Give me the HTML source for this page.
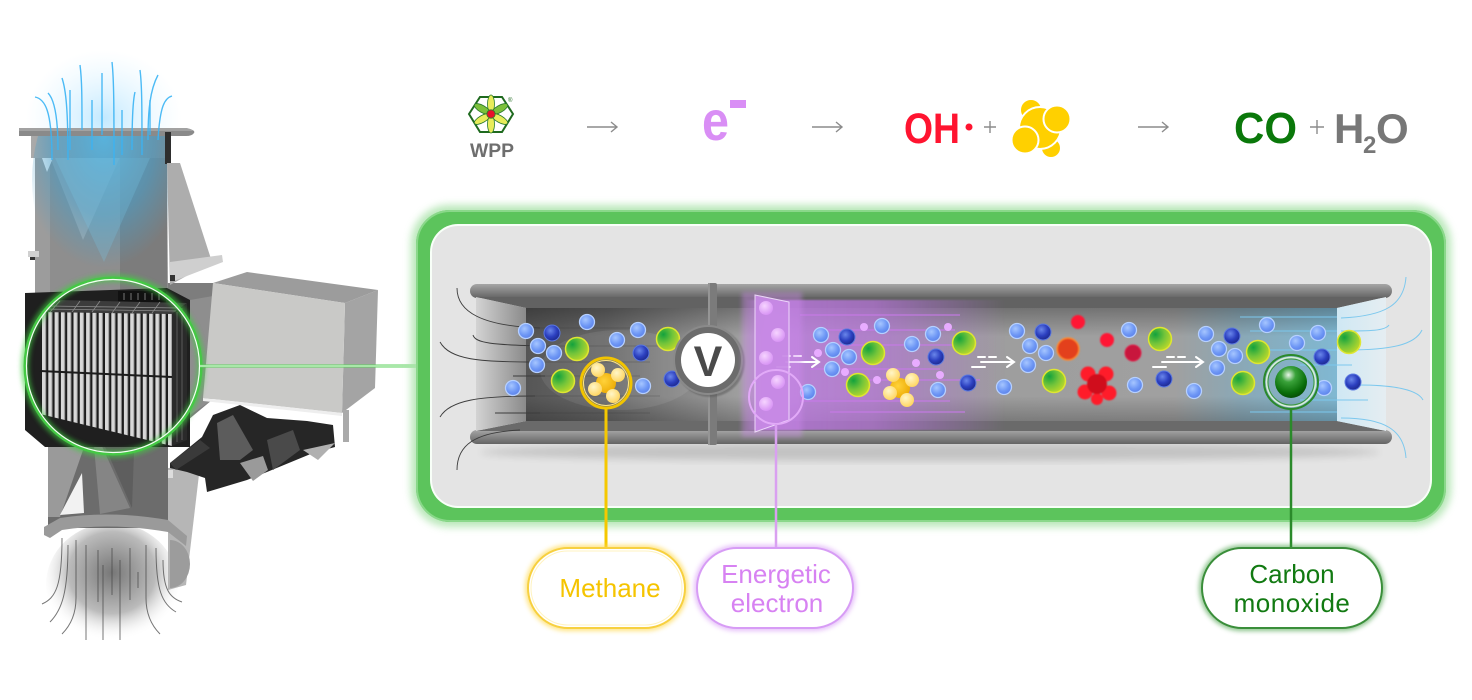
<!DOCTYPE html>
<html><head><meta charset="utf-8"><style>
html,body{margin:0;padding:0;background:#fff;width:1472px;height:700px;overflow:hidden}
svg{display:block}
text{font-family:"Liberation Sans",Arial,sans-serif}
</style></head><body>
<svg width="1472" height="700" viewBox="0 0 1472 700" xmlns="http://www.w3.org/2000/svg">
<defs>
<filter id="b1" x="-30%" y="-30%" width="160%" height="160%"><feGaussianBlur stdDeviation="0.8"/></filter>
<filter id="b2" x="-50%" y="-50%" width="200%" height="200%"><feGaussianBlur stdDeviation="2.5"/></filter>
<filter id="b4" x="-20%" y="-20%" width="140%" height="140%"><feGaussianBlur stdDeviation="4"/></filter>
<filter id="b8" x="-50%" y="-50%" width="200%" height="200%"><feGaussianBlur stdDeviation="8"/></filter>
<radialGradient id="glb" cx="0.4" cy="0.35" r="0.7"><stop offset="0" stop-color="#a6c6ff"/><stop offset="0.6" stop-color="#6e97f5"/><stop offset="1" stop-color="#5a80e8"/></radialGradient>
<radialGradient id="gdb" cx="0.4" cy="0.35" r="0.7"><stop offset="0" stop-color="#6a86ea"/><stop offset="0.55" stop-color="#2c40c0"/><stop offset="1" stop-color="#1b2688"/></radialGradient>
<radialGradient id="ggy" cx="0.3" cy="0.3" r="0.8"><stop offset="0" stop-color="#13a23c"/><stop offset="0.5" stop-color="#72c43a"/><stop offset="1" stop-color="#c2da28"/></radialGradient>
<radialGradient id="gsat" cx="0.4" cy="0.35" r="0.7"><stop offset="0" stop-color="#fff6c8"/><stop offset="1" stop-color="#ffd45a"/></radialGradient>
<radialGradient id="gmc" cx="0.4" cy="0.4" r="0.7"><stop offset="0" stop-color="#ffd23a"/><stop offset="1" stop-color="#eba800"/></radialGradient>
<radialGradient id="gpk" cx="0.4" cy="0.35" r="0.7"><stop offset="0" stop-color="#f6d4ff"/><stop offset="1" stop-color="#d690f4"/></radialGradient>
<radialGradient id="gco" cx="0.42" cy="0.28" r="0.75"><stop offset="0" stop-color="#eaf6ea"/><stop offset="0.3" stop-color="#3aa23a"/><stop offset="0.75" stop-color="#0a6e0a"/><stop offset="1" stop-color="#064a06"/></radialGradient>
<linearGradient id="gint" gradientUnits="userSpaceOnUse" x1="526" y1="0" x2="1337" y2="0">
<stop offset="0" stop-color="#565656"/><stop offset="0.1" stop-color="#686868"/><stop offset="0.2" stop-color="#8a8a8a"/><stop offset="0.28" stop-color="#a4a4a4"/><stop offset="0.45" stop-color="#9c9c9c"/><stop offset="0.62" stop-color="#9e9e9e"/><stop offset="0.8" stop-color="#a0a0a0"/><stop offset="0.88" stop-color="#8aa8b6"/><stop offset="1" stop-color="#80b8d2"/></linearGradient>
<linearGradient id="gv" x1="0" y1="0" x2="0" y2="1"><stop offset="0" stop-color="#000" stop-opacity="0.28"/><stop offset="0.25" stop-color="#000" stop-opacity="0"/><stop offset="0.78" stop-color="#000" stop-opacity="0"/><stop offset="1" stop-color="#000" stop-opacity="0.22"/></linearGradient>
<linearGradient id="gpur" gradientUnits="userSpaceOnUse" x1="745" y1="0" x2="1005" y2="0">
<stop offset="0" stop-color="#b870e0" stop-opacity="0"/><stop offset="0.08" stop-color="#c07ae6" stop-opacity="0.8"/><stop offset="0.5" stop-color="#b874dc" stop-opacity="0.7"/><stop offset="0.8" stop-color="#b070d8" stop-opacity="0.3"/><stop offset="1" stop-color="#b070d8" stop-opacity="0"/></linearGradient>
<linearGradient id="gfl" x1="0" y1="0" x2="0" y2="1"><stop offset="0" stop-color="#a6a6a6"/><stop offset="0.45" stop-color="#888"/><stop offset="1" stop-color="#646464"/></linearGradient>
<linearGradient id="gls" gradientUnits="userSpaceOnUse" x1="470" y1="0" x2="526" y2="0"><stop offset="0" stop-color="#dcdcdc"/><stop offset="1" stop-color="#8a8a8a"/></linearGradient>
<linearGradient id="grs" gradientUnits="userSpaceOnUse" x1="1337" y1="0" x2="1392" y2="0"><stop offset="0" stop-color="#cfe8f4"/><stop offset="1" stop-color="#e8eef1"/></linearGradient>
<radialGradient id="gBlueTop" cx="0.5" cy="0.5" r="0.5"><stop offset="0" stop-color="#bfe8ff" stop-opacity="0.95"/><stop offset="1" stop-color="#dff4ff" stop-opacity="0"/></radialGradient>
<radialGradient id="gCone" cx="0.5" cy="0.3" r="0.6"><stop offset="0" stop-color="#55b4e0" stop-opacity="0.95"/><stop offset="0.6" stop-color="#4a9ec8" stop-opacity="0.6"/><stop offset="1" stop-color="#4a9ec8" stop-opacity="0"/></radialGradient>
<radialGradient id="gBot" cx="0.5" cy="0.4" r="0.55"><stop offset="0" stop-color="#777"/><stop offset="0.6" stop-color="#bbb"/><stop offset="1" stop-color="#fff" stop-opacity="0"/></radialGradient>
<linearGradient id="gCol" x1="0" y1="0" x2="1" y2="0"><stop offset="0" stop-color="#aaa"/><stop offset="1" stop-color="#858585"/></linearGradient>
<pattern id="fins" x="42" y="0" width="6.3" height="10" patternUnits="userSpaceOnUse"><rect width="6.3" height="10" fill="#1c1c1c"/><rect width="4" height="10" fill="#d8d8d8"/><rect x="3.2" width="0.9" height="10" fill="#9a9a9a"/></pattern>
<clipPath id="colclip"><rect x="31" y="136" width="137" height="160"/></clipPath>
<circle id="LB" r="7.5" fill="url(#glb)" stroke="#b6d0ff" stroke-width="1.3"/>
<circle id="DB" r="8" fill="url(#gdb)" stroke="#5a78e0" stroke-width="1"/>
<circle id="GY" r="11.5" fill="url(#ggy)" stroke="#dfe632" stroke-width="1.5"/>
<circle id="PK" r="4" fill="#e8acff"/>
</defs>

<!-- ================= MACHINE ================= -->
<ellipse cx="104" cy="118" rx="78" ry="68" fill="url(#gBlueTop)"/>
<ellipse cx="112" cy="585" rx="66" ry="62" fill="url(#gBot)"/>
<g stroke="#4a4a4a" stroke-width="1" fill="none" opacity="0.75">
<path d="M62,538 C62,585 56,598 42,604"/>
<path d="M68,545 C68,592 62,610 50,622"/>
<path d="M76,540 L76,598 C76,615 70,626 62,634"/>
<path d="M86,545 L86,640"/>
<path d="M98,550 L98,602"/>
<path d="M103,565 L103,640"/>
<path d="M112,548 L112,595"/>
<path d="M120,560 L120,640"/>
<path d="M130,548 L130,600"/>
<path d="M138,572 L138,588"/>
<path d="M146,545 L146,598 C146,615 152,626 160,634"/>
<path d="M156,548 C156,590 162,604 176,612"/>
<path d="M163,560 C163,590 170,598 182,602"/>
</g>
<path d="M168,468 L200,466 L186,585 L168,590 Z" fill="#b6b6b6"/>
<path d="M170,540 A20 24 0 0 1 170,588 Z" fill="#9c9c9c"/>
<path d="M48,418 L168,418 L168,528 L48,528 Z" fill="#6c6c6c"/>
<path d="M48,420 L92,424 L60,517 L48,517 Z" fill="#9a9a9a"/>
<path d="M92,424 L130,508 L100,514 Z" fill="#858585"/>
<path d="M95,424 L135,424 L132,508 Z" fill="#5e5e5e"/>
<path d="M60,515 L82,473 L84,513 Z" fill="#f2f2f2"/>
<path d="M44,527 L60,518 Q110,510 168,520 L187,536 L186,546 L168,532 Q110,522 62,530 L50,538 L44,535 Z" fill="#9a9a9a"/>
<path d="M170,463 L202,437 L213,415 L240,405 L267,418 L307,421 L333,425 L335,447 L313,453 L267,472 L247,480 L207,492 L205,478 L187,472 L170,468 Z" fill="#262626"/>
<path d="M217,423 L233,415 L253,450 L240,460 L220,460 Z" fill="#5c5c5c"/>
<path d="M267,440 L293,430 L300,450 L273,470 Z" fill="#4a4a4a"/>
<path d="M240,463 L263,456 L268,470 L253,481 Z" fill="#9a9a9a"/>
<path d="M303,450 L335,443 L318,460 Z" fill="#b0b0b0"/>
<path d="M170,463 L200,440 L210,448 L176,470 Z" fill="#3a3a3a"/>
<rect x="168" y="470" width="5" height="8" fill="#ddd"/>
<path d="M167,283 L214,283 L212,400 L188,420 L167,420 Z" fill="#7d7d7d"/>
<path d="M190,300 L213,296 L212,400 L190,415 Z" fill="#8e8e8e"/>
<path d="M345,303 L378,290 L375,388 L342,413 Z" fill="#a4a4a4"/>
<path d="M213,283 L247,272 L378,290 L345,303 Z" fill="#9c9c9c"/>
<path d="M213,283 L345,303 L342,413 L203,398 Z" fill="#c9c9c7"/>
<path d="M203,398 L342,413 L342,416 L203,401 Z" fill="#eee"/>
<rect x="343" y="410" width="6" height="32" fill="#aaa"/>
<path d="M35,157 L167,157 L168,300 L35,300 Z" fill="#8e8e8e"/>
<path d="M35,157 L50,157 L50,300 L35,300 Z" fill="#9c9c9c"/>
<path d="M50,157 L120,157 L83,240 Z" fill="#a8a8a8"/>
<path d="M120,157 L167,157 L167,292 L120,292 Z" fill="#7c7c7c"/>
<rect x="31" y="136" width="137" height="22" fill="url(#gCol)"/>
<path d="M19,128 L186,128 Q196,130 194,133 Q192,136 186,136 L19,136 Z" fill="#8a8a8a"/>
<path d="M19,128 L186,128 Q192,129 193,131 L19,131 Z" fill="#a2a2a2"/>
<path d="M42,158 L53,158 L47,172 Z" fill="#fff"/>
<g clip-path="url(#colclip)"><ellipse cx="104" cy="180" rx="72" ry="110" fill="url(#gCone)"/>
<path d="M55,158 L150,158 L104,262 Z" fill="#7cc6e8" opacity="0.25"/></g>
<rect x="165" y="132" width="6" height="32" fill="#2e2e2e"/>
<path d="M167,163 L180,163 L212,262 L170,285 Z" fill="#adadad"/>
<path d="M170,262 L222,255 L223,262 L174,281 L170,278 Z" fill="#cfcfcf"/>
<rect x="170" y="275" width="5" height="6" fill="#333"/>
<rect x="28" y="251" width="11" height="6" fill="#d0d0d0"/><rect x="30" y="257" width="5" height="3" fill="#333"/>
<g stroke="#3ab4f5" stroke-width="1.4" fill="none" opacity="0.9">
<path d="M35,97 C45,99 52,110 52,160"/>
<path d="M48,93 C55,100 58,120 58,150"/>
<path d="M62,78 C66,90 68,110 68,160"/>
<path d="M70,90 L70,150"/>
<path d="M80,65 C82,80 82,100 82,130"/>
<path d="M92,100 L92,150"/>
<path d="M102,73 L102,135"/>
<path d="M112,62 C114,80 114,110 114,165"/>
<path d="M122,110 L122,155"/>
<path d="M135,92 C133,100 132,120 132,150"/>
<path d="M140,70 C142,85 142,110 142,155"/>
<path d="M150,100 L150,135"/>
<path d="M158,75 C150,90 148,110 148,140"/>
<path d="M172,96 C165,98 160,105 158,140"/>
</g>
<path d="M25,293 L167,288 L190,300 L190,447 L45,447 L25,430 Z" fill="#1f1f1f"/>
<rect x="118" y="291" width="48" height="12" fill="#111"/>
<g stroke="#777" stroke-width="1"><path d="M124,293 V300 M131,293 V300 M138,293 V300 M145,293 V300 M152,293 V300 M159,293 V300"/></g>
<path d="M40,312 L58,300 L187,303 L172,314 Z" fill="#3c3c3c"/>
<g stroke="#8a8a8a" stroke-width="0.8"><path d="M48,306 L180,308 M44,309 L176,311 M60,301 L50,312 M80,301 L72,312 M100,301 L92,312 M120,302 L112,313 M140,302 L132,313 M160,302 L152,313"/></g>
<path d="M40,312 L172,314 L172,446 L40,414 Z" fill="url(#fins)"/>
<path d="M40,371 L172,377" stroke="#1c1c1c" stroke-width="2"/>
<path d="M172,314 L187,303 L187,440 L172,446 Z" fill="#2a2a2a"/>
<path d="M177,312 V442 M182,308 V440" stroke="#5a5a5a" stroke-width="1"/>
<circle cx="113" cy="366" r="88" fill="none" stroke="#3fd03f" stroke-width="8" opacity="0.6" filter="url(#b2)"/>
<circle cx="113" cy="366" r="88" fill="none" stroke="#45c845" stroke-width="3"/>
<circle cx="113" cy="366" r="86.5" fill="none" stroke="#f4fff4" stroke-width="1.2"/>
<line x1="200" y1="366" x2="434" y2="366" stroke="#55d455" stroke-width="7" opacity="0.7" filter="url(#b2)"/>
<line x1="200" y1="366" x2="434" y2="366" stroke="#5fd05f" stroke-width="3"/>
<line x1="200" y1="366" x2="434" y2="366" stroke="#f0fff0" stroke-width="1"/>

<!-- ================= PANEL ================= -->
<rect x="411" y="205" width="1040" height="322" rx="38" fill="#a8e2a8" opacity="0.8" filter="url(#b4)"/>
<rect x="416" y="210" width="1030" height="312" rx="34" fill="#5cc45c"/>
<rect x="417" y="211" width="1028" height="310" rx="33" fill="none" stroke="#8ad88a" stroke-width="2"/>
<rect x="430" y="224" width="1002" height="284" rx="28" fill="#f8fff8"/>
<rect x="432" y="226" width="998" height="280" rx="26" fill="#e4e4e4"/>
<ellipse cx="930" cy="452" rx="450" ry="9" fill="#000" opacity="0.14" filter="url(#b4)"/>
<rect x="470" y="284" width="922" height="14" rx="7" fill="url(#gfl)"/>
<rect x="470" y="430" width="922" height="14" rx="7" fill="url(#gfl)"/>
<path d="M476,297 L1386,297 L1337,308 L526,308 Z" fill="#626262"/>
<path d="M526,421 L1337,421 L1386,431 L476,431 Z" fill="#6a6a6a"/>
<path d="M476,297 L526,308 L526,421 L476,431 Z" fill="url(#gls)"/>
<path d="M1337,308 L1386,297 L1386,431 L1337,421 Z" fill="url(#grs)"/>
<rect x="526" y="308" width="811" height="113" fill="url(#gint)"/>
<rect x="526" y="308" width="811" height="113" fill="url(#gv)"/>
<ellipse cx="620" cy="370" rx="80" ry="40" fill="#fff" opacity="0.08"/>
<rect x="745" y="300" width="260" height="130" fill="url(#gpur)" filter="url(#b1)"/>
<g stroke="#c77ae8" stroke-width="1.5" opacity="0.75">
<path d="M800,315 H960 M820,330 H955 M840,345 H975 M810,369 H940 M860,380 H980 M800,401 H950 M830,412 H965"/>
</g>
<g stroke="#3c3c3c" stroke-width="0.9" fill="none">
<path d="M457,288 C457,312 482,326 540,328"/>
<path d="M473,335 C475,343 492,345 545,346"/>
<path d="M440,342 C450,360 480,362 535,362"/>
<path d="M513,376 L545,376"/>
<path d="M440,417 C450,400 480,396 535,396"/>
<path d="M495,413 L540,413"/>
<path d="M457,470 C457,445 475,432 520,430"/>
</g>
<g stroke="#333" stroke-width="0.8" opacity="0.35"><path d="M540,328 H640 M545,346 H660 M535,362 H650 M545,376 H640 M535,396 H660 M540,413 H650"/></g>
<g stroke="#7cc8ee" stroke-width="1" fill="none">
<path d="M1406,277 C1404,305 1385,316 1341,318"/>
<path d="M1389,325 C1385,331 1370,331 1341,331"/>
<path d="M1422,330 C1415,345 1390,350 1348,350"/>
<path d="M1300,365 H1352"/>
<path d="M1358,385 C1395,385 1418,390 1423,400"/>
<path d="M1300,400 H1368"/>
<path d="M1341,418 C1385,418 1404,430 1406,458"/>
<path d="M1240,317 H1337 M1250,331 H1337 M1260,350 H1337 M1250,412 H1337"/>
</g>
<g stroke="#fff" stroke-width="2" fill="none" stroke-linecap="round">
<path d="M783,356 H790 M794,356 H801 M786,362 H818 M777,367 H790 M812,357 L819,362 L812,367"/>
<path d="M978,357 H985 M989,357 H996 M981,362 H1014 M972,367 H985 M1007,357 L1014,362 L1007,367"/>
<path d="M1167,357 H1174 M1178,357 H1185 M1162,362 H1203 M1153,367 H1166 M1196,357 L1203,362 L1196,367"/>
</g>
<g>
<use href="#LB" x="526" y="331"/><use href="#LB" x="538" y="346"/><use href="#LB" x="554" y="353"/><use href="#LB" x="537" y="365"/><use href="#LB" x="587" y="322"/><use href="#LB" x="617" y="340"/><use href="#LB" x="638" y="330"/><use href="#LB" x="643" y="386"/><use href="#LB" x="513" y="388"/><use href="#LB" x="808" y="392"/><use href="#LB" x="821" y="335"/><use href="#LB" x="833" y="350"/><use href="#LB" x="849" y="357"/><use href="#LB" x="832" y="369"/><use href="#LB" x="882" y="326"/><use href="#LB" x="912" y="344"/><use href="#LB" x="933" y="334"/><use href="#LB" x="938" y="390"/><use href="#LB" x="1004" y="387"/><use href="#LB" x="1017" y="331"/><use href="#LB" x="1030" y="346"/><use href="#LB" x="1046" y="353"/><use href="#LB" x="1028" y="365"/><use href="#LB" x="1129" y="330"/><use href="#LB" x="1135" y="385"/><use href="#LB" x="1194" y="391"/><use href="#LB" x="1206" y="334"/><use href="#LB" x="1219" y="349"/><use href="#LB" x="1235" y="356"/><use href="#LB" x="1217" y="368"/><use href="#LB" x="1267" y="325"/><use href="#LB" x="1297" y="343"/><use href="#LB" x="1318" y="333"/><use href="#LB" x="1324" y="388"/>
<use href="#DB" x="552" y="333"/><use href="#DB" x="641" y="353"/><use href="#DB" x="672" y="379"/><use href="#DB" x="847" y="337"/><use href="#DB" x="936" y="357"/><use href="#DB" x="968" y="383"/><use href="#DB" x="1043" y="332"/><use href="#DB" x="1164" y="379"/><use href="#DB" x="1232" y="336"/><use href="#DB" x="1322" y="357"/><use href="#DB" x="1353" y="382"/>
<use href="#GY" x="577" y="349"/><use href="#GY" x="563" y="381"/><use href="#GY" x="668" y="339"/><use href="#GY" x="873" y="353"/><use href="#GY" x="858" y="385"/><use href="#GY" x="964" y="343"/><use href="#GY" x="1054" y="381"/><use href="#GY" x="1160" y="339"/><use href="#GY" x="1258" y="352"/><use href="#GY" x="1243" y="383"/><use href="#GY" x="1349" y="342"/>
<use href="#PK" x="864" y="327"/><use href="#PK" x="818" y="353"/><use href="#PK" x="845" y="372"/><use href="#PK" x="877" y="380"/><use href="#PK" x="916" y="363"/><use href="#PK" x="948" y="327"/><use href="#PK" x="940" y="375"/>
</g>
<g filter="url(#b1)">
<circle cx="1078" cy="322" r="7" fill="#ff1535"/>
<circle cx="1107" cy="340" r="7" fill="#ff1535"/>
<circle cx="1133" cy="353" r="8" fill="#c8143e" stroke="#e0204a" stroke-width="1"/>
<circle cx="1068" cy="349" r="11" fill="#e3401f" stroke="#ff8a30" stroke-width="1.5"/>
<circle cx="1088" cy="374" r="7.5" fill="#ff1a2a"/><circle cx="1106" cy="374" r="7.5" fill="#ff1a2a"/>
<circle cx="1085" cy="392" r="7.5" fill="#ff1a2a"/><circle cx="1109" cy="393" r="7.5" fill="#ff1a2a"/>
<circle cx="1097" cy="399" r="6" fill="#ff1a2a"/><circle cx="1097" cy="384" r="10" fill="#d0101e"/>
</g>
<g>
<circle cx="606" cy="383" r="10" fill="url(#gmc)"/>
<circle cx="598" cy="370" r="7" fill="url(#gsat)"/><circle cx="618" cy="375" r="7" fill="url(#gsat)"/>
<circle cx="595" cy="389" r="7" fill="url(#gsat)"/><circle cx="613" cy="396" r="7" fill="url(#gsat)"/>
<circle cx="900" cy="388" r="10" fill="url(#gmc)"/>
<circle cx="893" cy="375" r="7" fill="url(#gsat)"/><circle cx="912" cy="380" r="7" fill="url(#gsat)"/>
<circle cx="890" cy="393" r="7" fill="url(#gsat)"/><circle cx="907" cy="400" r="7" fill="url(#gsat)"/>
</g>
<rect x="708" y="283" width="9" height="162" rx="2" fill="#7b7b7b"/>
<rect x="708" y="283" width="2" height="162" fill="#959595"/>
<circle cx="710" cy="362" r="35" fill="#555" opacity="0.5" filter="url(#b1)"/>
<circle cx="708" cy="360" r="35" fill="#8a8a8a"/>
<circle cx="708" cy="360" r="33" fill="#6c6c6c"/>
<circle cx="708" cy="360" r="27" fill="#fff"/>
<text x="708" y="376" font-size="43" font-weight="bold" fill="#4a4a4a" text-anchor="middle">V</text>
<rect x="742" y="292" width="60" height="145" fill="#d08af0" opacity="0.4" filter="url(#b2)"/>
<path d="M755,295 L789,302 L789,420 L755,432 Z" fill="#c88ae6" opacity="0.9" stroke="#f4e2ff" stroke-width="1"/>
<circle cx="766" cy="308" r="7" fill="url(#gpk)"/><circle cx="778" cy="335" r="7" fill="url(#gpk)"/><circle cx="766" cy="358" r="7" fill="url(#gpk)"/><circle cx="778" cy="382" r="7" fill="url(#gpk)"/><circle cx="766" cy="404" r="7" fill="url(#gpk)"/>
<circle cx="776" cy="397" r="27" fill="none" stroke="#e2aaf8" stroke-width="2"/>
<circle cx="606" cy="383" r="25" fill="none" stroke="#f2c400" stroke-width="3"/>
<circle cx="606" cy="383" r="22.5" fill="none" stroke="#ffe680" stroke-width="1"/>
<circle cx="1291" cy="382" r="27" fill="none" stroke="#2a8a2a" stroke-width="2"/>
<circle cx="1291" cy="382" r="24.5" fill="none" stroke="#d8f0d8" stroke-width="1.5"/>
<circle cx="1291" cy="382" r="23" fill="none" stroke="#3c9a3c" stroke-width="1"/>
<circle cx="1291" cy="382" r="16" fill="url(#gco)"/>

<line x1="606" y1="408" x2="606" y2="550" stroke="#f5c800" stroke-width="3"/>
<line x1="776" y1="424" x2="776" y2="550" stroke="#d9a0f0" stroke-width="2.5"/>
<line x1="1291" y1="409" x2="1291" y2="550" stroke="#2a8a2a" stroke-width="2.5"/>

<rect x="528" y="548" width="157" height="80" rx="40" fill="none" stroke="#ffd84a" stroke-width="6" opacity="0.7" filter="url(#b2)"/>
<rect x="528" y="548" width="157" height="80" rx="40" fill="#fff" stroke="#f7d040" stroke-width="2"/>
<rect x="531" y="551" width="151" height="74" rx="37" fill="none" stroke="#fff3c0" stroke-width="1"/>
<text x="610" y="597" font-size="26" fill="#f5c400" text-anchor="middle">Methane</text>

<rect x="697" y="548" width="156" height="80" rx="40" fill="none" stroke="#dba4f7" stroke-width="6" opacity="0.7" filter="url(#b2)"/>
<rect x="697" y="548" width="156" height="80" rx="40" fill="#fff" stroke="#d79cf5" stroke-width="2"/>
<text x="776" y="583" font-size="26" fill="#d782f2" text-anchor="middle">Energetic</text>
<text x="777" y="612" font-size="26" fill="#d782f2" text-anchor="middle">electron</text>

<rect x="1202" y="548" width="180" height="80" rx="40" fill="none" stroke="#3a9a3a" stroke-width="6" opacity="0.6" filter="url(#b2)"/>
<rect x="1202" y="548" width="180" height="80" rx="40" fill="#fff" stroke="#3a8e3a" stroke-width="2"/>
<text x="1292" y="583" font-size="26" fill="#127a12" text-anchor="middle">Carbon</text>
<text x="1292" y="612" font-size="26" fill="#127a12" text-anchor="middle" letter-spacing="0.5">monoxide</text>

<!-- ================= TOP EQUATION ================= -->
<g>
<path d="M469,114 L480,97 L502,97 L513,114 L502,132 L480,132 Z" fill="#fff" stroke="#1f6a1f" stroke-width="2"/>
<g stroke="#2a7a2a" stroke-width="0.8">
<ellipse cx="491" cy="104" rx="3.5" ry="9" fill="#e8ec5a"/>
<ellipse cx="491" cy="124" rx="3.5" ry="9" fill="#e8ec5a"/>
<ellipse cx="491" cy="104" rx="3.5" ry="9" fill="#7cc03a" transform="rotate(60 491 114)"/>
<ellipse cx="491" cy="104" rx="3.5" ry="9" fill="#e8ec5a" transform="rotate(120 491 114)"/>
<ellipse cx="491" cy="104" rx="3.5" ry="9" fill="#7cc03a" transform="rotate(-60 491 114)"/>
<ellipse cx="491" cy="104" rx="3.5" ry="9" fill="#e8ec5a" transform="rotate(-120 491 114)"/>
</g>
<circle cx="491" cy="114" r="4.2" fill="#e8102a" stroke="#2a7a2a" stroke-width="0.8"/>
<text x="508" y="102" font-size="6" fill="#1f6a1f">®</text>
<text x="470" y="157" font-size="19" font-weight="bold" fill="#6e6e6e" textLength="44" lengthAdjust="spacingAndGlyphs">WPP</text>
</g>
<g stroke="#8c8c8c" stroke-width="1.4" fill="none">
<path d="M587,127 H617 M611,122 L617,127 L611,132"/>
<path d="M812,127 H842 M836,122 L842,127 L836,132"/>
<path d="M1138,127 H1168 M1162,122 L1168,127 L1162,132"/>
<path d="M984,127 H996 M990,121 V133"/>
<path d="M1310,127 H1324 M1317,120 V134"/>
</g>
<text x="702" y="140" font-size="56" font-weight="bold" fill="#d98ef5" textLength="27" lengthAdjust="spacingAndGlyphs">e</text>
<rect x="730" y="100" width="16" height="8" fill="#d98ef5"/>
<text x="904" y="143" font-size="43" font-weight="bold" fill="#ff1430" textLength="56" lengthAdjust="spacingAndGlyphs">OH</text>
<circle cx="969" cy="127" r="3.5" fill="#ff1430"/>
<g stroke="#fff" stroke-width="2" fill="#ffd000">
<circle cx="1031" cy="110" r="11"/>
<circle cx="1051" cy="148" r="10"/>
<circle cx="1040" cy="128" r="21"/>
<circle cx="1057" cy="119" r="13.5"/>
<circle cx="1025" cy="140" r="13.5"/>
</g>
<text x="1234" y="143" font-size="44" font-weight="bold" fill="#0a780a" textLength="63" lengthAdjust="spacingAndGlyphs">CO</text>
<text x="1334" y="143" font-size="42" font-weight="bold" fill="#777">H</text>
<text x="1363" y="153" font-size="24" font-weight="bold" fill="#777">2</text>
<text x="1376" y="143" font-size="42" font-weight="bold" fill="#777">O</text>
</svg>
</body></html>
